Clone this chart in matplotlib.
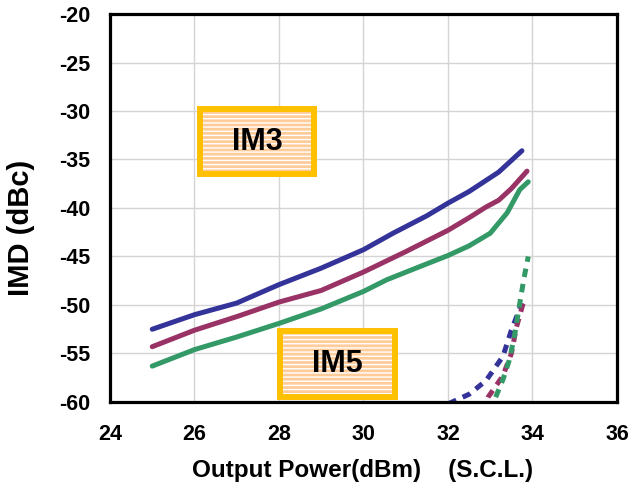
import matplotlib.pyplot as plt
from matplotlib.patches import Rectangle

plt.rcParams['font.family'] = ['Liberation Sans', 'DejaVu Sans']
plt.rcParams['font.weight'] = 'bold'
plt.rcParams['axes.unicode_minus'] = False
plt.rcParams['hatch.linewidth'] = 1.0

# IM3 (solid) curves
pout_im3 = [25, 26, 27, 28, 29, 30, 30.7, 31.1, 31.5, 32, 32.5, 33.2, 33.75]
im3_blue = [-52.5, -51.0, -49.8, -47.9, -46.2, -44.3, -42.6, -41.7, -40.8, -39.5, -38.3, -36.3, -34.1]
pout_im3b = [25, 26, 27, 28, 29, 30, 31, 32, 32.5, 32.9, 33.2, 33.5, 33.87]
im3_mag = [-54.3, -52.6, -51.2, -49.7, -48.5, -46.6, -44.5, -42.3, -41.0, -39.9, -39.2, -38.0, -36.2]
pout_im3c = [25, 26, 27, 28, 29, 30, 30.55, 31.3, 32, 32.5, 33.0, 33.4, 33.7, 33.9]
im3_grn = [-56.3, -54.6, -53.3, -51.9, -50.4, -48.6, -47.4, -46.1, -44.9, -43.9, -42.6, -40.5, -38.1, -37.3]

# IM5 (dashed) curves
pout_im5_blue = [31.7, 32.0, 32.5, 32.9, 33.3, 33.5, 33.75]
im5_blue = [-61.0, -60.2, -59.2, -57.8, -55.3, -52.6, -49.8]
pout_im5_mag = [32.8, 32.95, 33.3, 33.5, 33.62, 33.78]
im5_mag = [-61.0, -59.5, -57.3, -55.0, -52.3, -49.8]
pout_im5_grn = [33.0, 33.1, 33.3, 33.45, 33.57, 33.7, 33.8, 33.9]
im5_grn = [-61.0, -59.8, -57.7, -55.7, -53.3, -49.8, -47.2, -45.0]

blue = '#333399'
mag = '#993366'
grn = '#339966'

fig = plt.figure(figsize=(6.31, 4.93), dpi=100)
ax = fig.add_axes([0.1743, 0.1846, 0.8035, 0.787])

ax.plot(pout_im3, im3_blue, color=blue, lw=3.6, solid_capstyle='round')
ax.plot(pout_im3b, im3_mag, color=mag, lw=3.6, solid_capstyle='round')
ax.plot(pout_im3c, im3_grn, color=grn, lw=3.6, solid_capstyle='round')

ax.plot(pout_im5_blue, im5_blue, color=blue, lw=3.6, dashes=(1.7, 1.4))
ax.plot(pout_im5_mag, im5_mag, color=mag, lw=3.6, dashes=(1.7, 1.4))
ax.plot(pout_im5_grn, im5_grn, color=grn, lw=3.6, dashes=(1.7, 1.4))

ax.set_xlim(24, 36)
ax.set_ylim(-60, -20)
ax.set_xticks(range(24, 37, 2))
ax.set_yticks(range(-60, -19, 5))
ax.grid(True, color='#D4D4D4', lw=1.0)
ax.set_axisbelow(True)
ax.tick_params(length=0, labelsize=15.5)
ax.tick_params(axis='x', pad=16)
ax.tick_params(axis='y', pad=14)
for s in ax.spines.values():
    s.set_linewidth(2.3)
    s.set_color('black')

# axis titles
fig.text(363 / 631, 1 - 471 / 493, 'Output Power(dBm)    (S.C.L.)', fontsize=17.5,
         fontweight='bold', ha='center', va='center')
fig.text(21 / 631, 1 - 228 / 493, 'IMD (dBc)', fontsize=21, fontweight='bold',
         rotation=90, ha='center', va='center')


def label_box(x0, y0, x1, y1, text):
    inner = Rectangle((x0, y0), x1 - x0, y1 - y0, facecolor='#FFCC99',
                      edgecolor='white', lw=0, hatch='----', zorder=5)
    ax.add_patch(inner)
    outer = Rectangle((x0, y0), x1 - x0, y1 - y0, facecolor='none',
                      edgecolor='#FFC000', lw=4.3, zorder=6)
    ax.add_patch(outer)
    ax.text((x0 + x1) / 2, (y0 + y1) / 2, text, fontsize=22, fontweight='bold',
            ha='center', va='center', zorder=7)


label_box(26.12, -36.5, 28.84, -29.8, 'IM3')
label_box(28.02, -59.5, 30.75, -52.7, 'IM5')

fig.savefig('out.png', dpi=100)
